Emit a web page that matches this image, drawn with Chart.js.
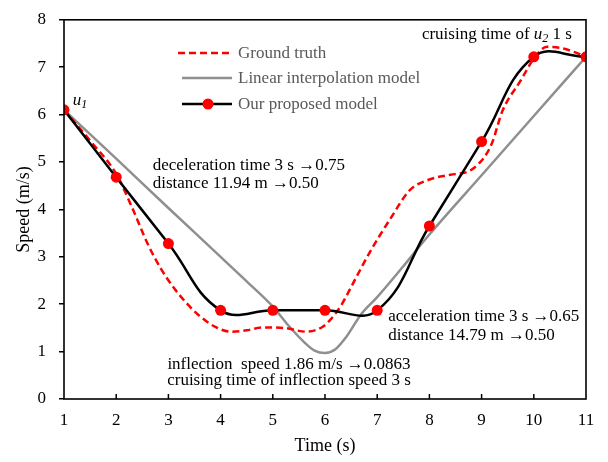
<!DOCTYPE html>
<html>
<head>
<meta charset="utf-8">
<script src="https://cdn.jsdelivr.net/npm/chart.js@4/dist/chart.umd.min.js"></script>
<style>
html,body{margin:0;padding:0;background:#fff;}
canvas{display:block;}
</style>
</head>
<body>
<canvas id="c" width="608" height="462"></canvas>
<script>
// ---- data ----
const modelTime  = [1, 2, 3, 4, 5, 6, 7, 8, 9, 10, 11];
const modelSpeed = [6.10, 4.68, 3.28, 1.87, 1.87, 1.87, 1.87, 3.65, 5.43, 7.22, 7.22];

const truthTime  = [1, 1.5, 2, 2.3, 2.6, 2.85, 3.1, 3.35, 3.6, 3.9, 4.2, 4.5, 4.8, 5.2, 5.65, 5.95, 6.1, 6.3, 6.6, 6.86, 7.25, 7.63, 8.0, 8.4, 8.78, 9.05, 9.2, 9.4, 9.75, 10, 10.25, 10.5, 10.75, 11];
const truthSpeed = [6.10, 5.45, 4.75, 4.05, 3.28, 2.76, 2.35, 2.02, 1.75, 1.52, 1.42, 1.45, 1.51, 1.50, 1.42, 1.52, 1.67, 1.96, 2.57, 3.10, 3.80, 4.41, 4.63, 4.73, 4.82, 5.10, 5.40, 6.08, 6.72, 7.18, 7.43, 7.41, 7.33, 7.22];

const linearTime  = [1, 2, 3, 4, 4.5, 5, 5.3, 5.6, 5.8, 6, 6.2, 6.4, 6.7, 7, 7.5, 8, 9, 10, 11];
const linearSpeed = [6.10, 5.07, 4.03, 3.00, 2.48, 1.95, 1.55, 1.20, 1.02, 0.97, 1.05, 1.30, 1.80, 2.15, 2.80, 3.47, 4.72, 5.97, 7.22];

const seriesNames = ['Ground truth', 'Linear interpolation model', 'Our proposed model'];
const xTitle = 'Time (s)';
const yTitle = 'Speed (m/s)';

// annotation texts (segments: [text, style]) anchored in data units
const notes = [
  {x: 1.17, y: 6.30, align: 'left', lines: [[['u','i'],['1','isub']]]},
  {x: 10.73, y: 7.69, align: 'right', lines: [[['cruising time of ',''],['u','i'],['2','isub'],[' 1 s','']]]},
  {x: 2.70, y: 4.92, align: 'left', lines: [[['deceleration time 3 s \u21920.75','']]]},
  {x: 2.70, y: 4.54, align: 'left', lines: [[['distance 11.94 m \u21920.50','']]]},
  {x: 7.21, y: 1.73, align: 'left', lines: [[['acceleration time 3 s \u21920.65','']]]},
  {x: 7.21, y: 1.34, align: 'left', lines: [[['distance 14.79 m \u21920.50','']]]},
  {x: 5.31, y: 0.73, align: 'center', lines: [[['inflection  speed 1.86 m/s \u21920.0863','']]]},
  {x: 5.31, y: 0.39, align: 'center', lines: [[['cruising time of inflection speed 3 s','']]]}
];

const FONT = "'Liberation Serif', 'Times New Roman', serif";
const pts = (xs, ys) => xs.map((x, i) => ({x: x, y: ys[i]}));

const framePlugin = {
  id: 'framePlugin',
  beforeDraw(chart) {
    const ctx = chart.ctx;
    ctx.save();
    ctx.fillStyle = '#fff';
    ctx.fillRect(0, 0, chart.width, chart.height);
    ctx.restore();
  },
  afterDraw(chart) {
    const ctx = chart.ctx;
    const a = chart.chartArea;
    const xs = chart.scales.x;
    const ys = chart.scales.y;
    ctx.save();
    // frame
    ctx.strokeStyle = '#000';
    ctx.lineWidth = 1.6;
    ctx.strokeRect(a.left, a.top, a.right - a.left, a.bottom - a.top);
    // inward x ticks
    ctx.lineWidth = 1.5;
    xs.ticks.forEach(t => {
      if (t.value <= xs.min || t.value >= xs.max) return;
      const px = xs.getPixelForValue(t.value);
      ctx.beginPath();
      ctx.moveTo(px, a.bottom);
      ctx.lineTo(px, a.bottom - 5);
      ctx.stroke();
    });

    // legend
    const order = [1, 2, 0];
    const lx0 = 182, lx1 = 232, tx = 238;
    const rowY = [53, 78, 104];
    ctx.font = '17px ' + FONT;
    ctx.textBaseline = 'middle';
    ctx.textAlign = 'left';
    order.forEach((di, r) => {
      const ds = chart.data.datasets[di];
      const y = rowY[r];
      ctx.save();
      ctx.strokeStyle = ds.borderColor;
      ctx.lineWidth = ds.borderWidth;
      ctx.setLineDash(ds.borderDash || []);
      ctx.beginPath();
      ctx.moveTo(lx0 + (ds.borderDash ? -4 : 0), y);
      ctx.lineTo(lx1, y);
      ctx.stroke();
      ctx.restore();
      if (ds.pointRadius > 0) {
        ctx.fillStyle = ds.pointBackgroundColor;
        ctx.beginPath();
        ctx.arc((lx0 + lx1) / 2 + 1, y, ds.pointRadius, 0, Math.PI * 2);
        ctx.fill();
      }
      ctx.fillStyle = '#595959';
      ctx.fillText(ds.label, tx, y + 1);
    });

    // annotations
    ctx.fillStyle = '#000';
    ctx.textBaseline = 'middle';
    notes.forEach(n => {
      const px = xs.getPixelForValue(n.x);
      const py = ys.getPixelForValue(n.y);
      n.lines.forEach((segs, li) => {
        const fontOf = st => (st.indexOf('i') >= 0 ? 'italic ' : '') + (st.indexOf('sub') >= 0 ? '12px ' : '17px ') + FONT;
        let w = 0;
        segs.forEach(s => { ctx.font = fontOf(s[1]); w += ctx.measureText(s[0]).width; });
        let x = px;
        if (n.align === 'right') x = px - w;
        else if (n.align === 'center') x = px - w / 2;
        const y = py + li * 19;
        ctx.textAlign = 'left';
        segs.forEach(s => {
          ctx.font = fontOf(s[1]);
          const dy = s[1].indexOf('sub') >= 0 ? 4 : 0;
          ctx.fillText(s[0], x, y + dy);
          x += ctx.measureText(s[0]).width;
        });
      });
    });
    ctx.restore();
  }
};

new Chart(document.getElementById('c'), {
  type: 'line',
  data: {
    datasets: [
      {
        label: seriesNames[2],
        data: pts(modelTime, modelSpeed),
        borderColor: '#000000',
        borderWidth: 2.5,
        tension: 0.42,
        pointRadius: 5.5,
        pointBackgroundColor: '#ff0000',
        pointBorderWidth: 0,
        pointBorderColor: '#ff0000',
        fill: false
      },
      {
        label: seriesNames[0],
        data: pts(truthTime, truthSpeed),
        borderColor: '#ff0000',
        borderWidth: 2.5,
        borderDash: [7, 4],
        cubicInterpolationMode: 'monotone',
        pointRadius: 0,
        fill: false
      },
      {
        label: seriesNames[1],
        data: pts(linearTime, linearSpeed),
        borderColor: '#8f8f8f',
        borderWidth: 2.5,
        cubicInterpolationMode: 'monotone',
        pointRadius: 0,
        fill: false
      }
    ]
  },
  options: {
    responsive: false,
    animation: false,
    devicePixelRatio: 1,
    layout: {padding: {left: 0, top: 7, right: 22, bottom: 0}},
    plugins: {legend: {display: false}, tooltip: {enabled: false}},
    scales: {
      x: {
        type: 'linear',
        min: 1, max: 11,
        ticks: {stepSize: 1, color: '#000', font: {family: FONT, size: 17}, padding: 11, maxRotation: 0},
        grid: {display: true, drawOnChartArea: false, drawTicks: false, color: '#000'},
        border: {display: false},
        title: {display: true, text: xTitle, color: '#000', font: {family: FONT, size: 18}, padding: {top: 0, bottom: 5}},
        afterFit: s => { s.height = 63; }
      },
      y: {
        min: 0, max: 8,
        ticks: {stepSize: 1, color: '#000', font: {family: FONT, size: 17, lineHeight: 0.8}, padding: 13},
        grid: {display: true, drawOnChartArea: false, drawTicks: true, tickLength: 5, color: '#000', lineWidth: 1.5},
        border: {display: false},
        title: {display: true, text: yTitle, color: '#000', font: {family: FONT, size: 18}, padding: {top: 13, bottom: 0}},
        afterFit: s => { s.width = 64; }
      }
    }
  },
  plugins: [framePlugin]
});
</script>
</body>
</html>
